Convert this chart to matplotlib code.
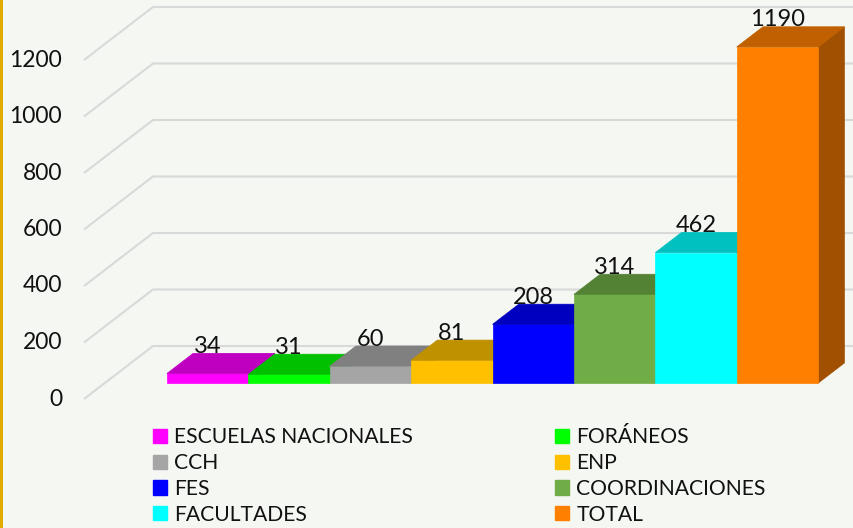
import numpy as np
import matplotlib.pyplot as plt
from matplotlib.patches import Polygon, Patch

# data
categorias = ['ESCUELAS NACIONALES', 'FORÁNEOS', 'CCH', 'ENP',
              'FES', 'COORDINACIONES', 'FACULTADES', 'TOTAL']
valores = [34, 31, 60, 81, 208, 314, 462, 1190]
ticks_y = [0, 200, 400, 600, 800, 1000, 1200]

# front / top / side face colours for each bar
frente = ['#FF00FF', '#00FF00', '#A5A5A5', '#FFC000',
          '#0000FF', '#70AD47', '#00FFFF', '#FF8000']
arriba = ['#C000C0', '#00C000', '#808080', '#BF9000',
          '#0000C0', '#548235', '#00C0C0', '#C06000']
lado = ['#A000A0', '#00A000', '#6A6A6A', '#A07800',
        '#0000A0', '#466C2C', '#00A0A0', '#A05000']

plt.rcParams['font.family'] = ['Lato', 'DejaVu Sans']
bg = '#F5F7F3'
txt = '#111111'

fig = plt.figure(figsize=(8.54, 5.28), dpi=100, facecolor=bg)
ax = fig.add_axes([0, 0, 1, 1])
ax.set_facecolor(bg)
ax.axis('off')

# pixel scale: 81.4 px per bar slot, 0.2825 px per unit of value
ax.set_xlim(-84 / 81.4, (854 - 84) / 81.4)
ax.set_ylim(-(528 - 399) / 0.2825, 399 / 0.2825)

# oblique depth of the box (t = 0 front, t = 1 back wall)
DX, DY = 69 / 81.4, 53 / 0.2825
def oblique(x, v, t):
    return (x + t * DX, v + t * DY)

# gridlines: diagonal on the side wall plus back wall line
for v in ticks_y:
    x0, y0 = oblique(0, v, 0)
    x1, y1 = oblique(0, v, 1)
    ax.plot([x0, x1, 20], [y0, y1, y1], color='#D9D9D9', lw=1.5,
            solid_capstyle='butt', zorder=1)
    ax.text(-0.27, v, str(v), ha='right', va='center', fontsize=16.5,
            color=txt)

# 3D bars, drawn left to right
t0, t1 = 0.30, 0.68
base = 0.765
for i, (val, cf, ct, cs) in enumerate(zip(valores, frente, arriba, lado)):
    xl, xr = base + i, base + i + 1
    front = [oblique(xl, 0, t0), oblique(xr, 0, t0),
             oblique(xr, val, t0), oblique(xl, val, t0)]
    top = [oblique(xl, val, t0), oblique(xr, val, t0),
           oblique(xr, val, t1), oblique(xl, val, t1)]
    side = [oblique(xr, 0, t0), oblique(xr, 0, t1),
            oblique(xr, val, t1), oblique(xr, val, t0)]
    for pts, c in ((side, cs), (front, cf), (top, ct)):
        ax.add_patch(Polygon(pts, closed=True, facecolor=c, edgecolor=c,
                             lw=0.5, zorder=2 + i))
    cx, cy = oblique((xl + xr) / 2, val, t0)
    ax.annotate(str(val), (cx, cy), xytext=(0, 19.5), textcoords='offset points',
                ha='center', va='center', fontsize=17, color=txt, zorder=20)

# legend, two columns filled row by row
handles = [Patch(facecolor=c, edgecolor=c, label=l)
           for c, l in zip(frente, categorias)]
kw = dict(frameon=False, fontsize=15.2, handlelength=0.66, handleheight=0.66,
          handletextpad=0.35, labelspacing=0.27, borderpad=0,
          borderaxespad=0, loc='center left', bbox_transform=fig.transFigure)
leg1 = fig.legend(handles=handles[0::2], bbox_to_anchor=(153 / 854, 1 - 476 / 528), **kw)
leg2 = fig.legend(handles=handles[1::2], bbox_to_anchor=(555 / 854, 1 - 476 / 528), **kw)
for leg in (leg1, leg2):
    for t in leg.get_texts():
        t.set_color(txt)

# gold stripe on the left edge
fig.add_artist(plt.Rectangle((0, 0), 3 / 854, 1, transform=fig.transFigure,
                             facecolor='#E3AA00', edgecolor='none'))

fig.savefig('out.png', dpi=100, facecolor=bg)
